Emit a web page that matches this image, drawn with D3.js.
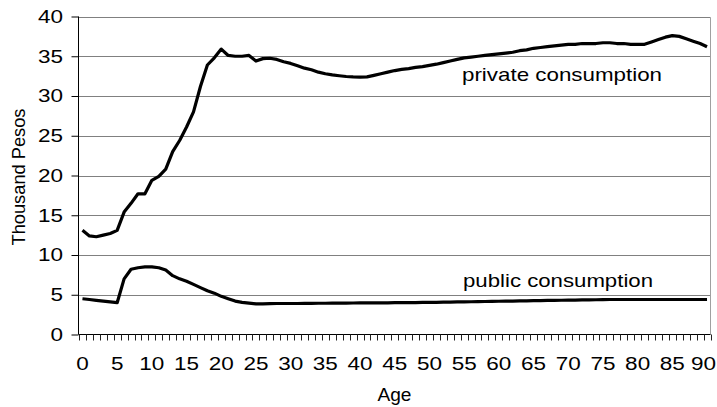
<!DOCTYPE html>
<html><head><meta charset="utf-8">
<script src="https://cdn.jsdelivr.net/npm/d3@7"></script>
<style>html,body{margin:0;padding:0;background:#fff;}svg{display:block;}</style>
</head><body>
<svg id="chart" width="717" height="407"></svg>
<script>
const ages = d3.range(0, 91);
const privateConsumption = [
13.1,12.4,12.3,12.5,12.7,13.1,15.4,16.5,17.7,17.7,
19.4,19.9,20.8,23.0,24.4,26.1,28.0,31.2,33.9,34.8,
35.9,35.1,35.0,35.0,35.1,34.4,34.7,34.75,34.6,34.3,
34.1,33.8,33.5,33.3,33.0,32.8,32.65,32.55,32.45,32.4,
32.37,32.4,32.6,32.8,33.0,33.2,33.35,33.45,33.6,33.7,
33.85,34.0,34.2,34.4,34.6,34.8,34.9,35.0,35.1,35.2,
35.3,35.4,35.5,35.7,35.8,36.0,36.1,36.2,36.3,36.4,
36.5,36.5,36.6,36.6,36.6,36.7,36.7,36.6,36.6,36.5,
36.5,36.5,36.8,37.1,37.4,37.6,37.5,37.2,36.9,36.6,
36.2];
const publicConsumption = [
4.5,4.4,4.3,4.2,4.1,4.0,7.0,8.2,8.4,8.5,
8.5,8.4,8.1,7.4,7.0,6.7,6.3,5.9,5.5,5.2,
4.8,4.5,4.2,4.05,3.95,3.85,3.85,3.88,3.9,3.9,
3.9,3.9,3.92,3.92,3.93,3.93,3.95,3.95,3.95,3.96,
3.97,3.97,3.98,3.98,3.99,4.0,4.0,4.0,4.02,4.03,
4.04,4.05,4.07,4.08,4.1,4.1,4.12,4.13,4.15,4.17,
4.18,4.2,4.21,4.22,4.24,4.25,4.27,4.28,4.3,4.31,
4.32,4.33,4.35,4.36,4.37,4.38,4.4,4.4,4.4,4.4,
4.4,4.4,4.4,4.4,4.4,4.4,4.4,4.4,4.4,4.4,
4.4];
const yTicks = [0,5,10,15,20,25,30,35,40];
const xTickLabels = [0,5,10,15,20,25,30,35,40,45,50,55,60,65,70,75,80,85,90];
const yTitle = "Thousand Pesos";
const xTitle = "Age";
const privateLabel = "private consumption";
const publicLabel = "public consumption";

const svg = d3.select("#chart");
const L = 79, R = 710.5, T = 16.5, B = 334.5;
const x = d3.scaleBand().domain(ages).range([L, R]).paddingInner(0).paddingOuter(0);
const cx = a => x(a) + x.bandwidth()/2;
const y = d3.scaleLinear().domain([0, 40]).range([B, T]);
const font = "'Liberation Sans', Arial, sans-serif";

// gridlines
svg.append("g").selectAll("line").data(yTicks.filter(v => v > 0)).join("line")
  .attr("x1", L).attr("x2", R)
  .attr("y1", v => Math.round(y(v)) + 0.5).attr("y2", v => Math.round(y(v)) + 0.5)
  .attr("stroke", "#808080").attr("stroke-width", 1);
// right border
svg.append("line").attr("x1", R).attr("x2", R).attr("y1", Math.round(y(40))+0.5).attr("y2", B)
  .attr("stroke", "#a0a0a0").attr("stroke-width", 1);

// y axis
const yAxis = svg.append("g").attr("transform", `translate(${L - 0.5},0)`)
  .call(d3.axisLeft(y).tickValues(yTicks).tickSize(7).tickFormat(""));
yAxis.select(".domain").attr("stroke", "#000").attr("d", `M0,${T}V${B}`);
yAxis.selectAll(".tick line").attr("stroke", "#000");
// y labels
svg.append("g").selectAll("text").data(yTicks).join("text")
  .attr("transform", v => `translate(63,${y(v)}) scale(1.25,1)`)
  .attr("text-anchor", "end").attr("dy", "0.36em")
  .attr("font-family", font).attr("font-size", 18).attr("fill", "#000")
  .text(d => d);

// x axis line
svg.append("line").attr("x1", L - 0.5).attr("x2", R).attr("y1", B).attr("y2", B)
  .attr("stroke", "#000").attr("stroke-width", 1);
// x ticks at category boundaries
const bounds = ages.map(a => x(a)).concat([R]);
svg.append("g").selectAll("line").data(bounds).join("line")
  .attr("x1", d => Math.round(d) + 0.5).attr("x2", d => Math.round(d) + 0.5)
  .attr("y1", B).attr("y2", B + 6)
  .attr("stroke", "#222").attr("stroke-width", 1);
const lastLabel = xTickLabels[xTickLabels.length - 1];
svg.append("g").selectAll("text").data(xTickLabels).join("text")
  .attr("transform", a => a === lastLabel ? `translate(716,370) scale(1.25,1)` : `translate(${cx(a)},370) scale(1.25,1)`)
  .attr("text-anchor", a => a === lastLabel ? "end" : "middle")
  .attr("font-family", font).attr("font-size", 18).attr("fill", "#000")
  .text(d => d);

// titles
svg.append("text").attr("x", 394.5).attr("y", 401).attr("text-anchor", "middle")
  .attr("font-family", font).attr("font-size", 18).attr("textLength", 34).attr("lengthAdjust", "spacingAndGlyphs")
  .text(xTitle);
svg.append("text").attr("transform", "translate(25,177) rotate(-90)").attr("text-anchor", "middle")
  .attr("font-family", font).attr("font-size", 18).attr("textLength", 137).attr("lengthAdjust", "spacingAndGlyphs")
  .text(yTitle);

// lines
const line = d3.line().x((d, i) => cx(ages[i])).y(d => y(d));
svg.append("path").datum(privateConsumption).attr("d", line)
  .attr("fill", "none").attr("stroke", "#000").attr("stroke-width", 3.2).attr("stroke-linejoin", "round");
svg.append("path").datum(publicConsumption).attr("d", line)
  .attr("fill", "none").attr("stroke", "#000").attr("stroke-width", 3.2).attr("stroke-linejoin", "round");

// annotations
svg.append("text").attr("x", 462).attr("y", 81).attr("font-family", font).attr("font-size", 19)
  .attr("textLength", 200).attr("lengthAdjust", "spacingAndGlyphs").text(privateLabel);
svg.append("text").attr("x", 463).attr("y", 287).attr("font-family", font).attr("font-size", 19)
  .attr("textLength", 190).attr("lengthAdjust", "spacingAndGlyphs").text(publicLabel);
</script>
</body></html>
